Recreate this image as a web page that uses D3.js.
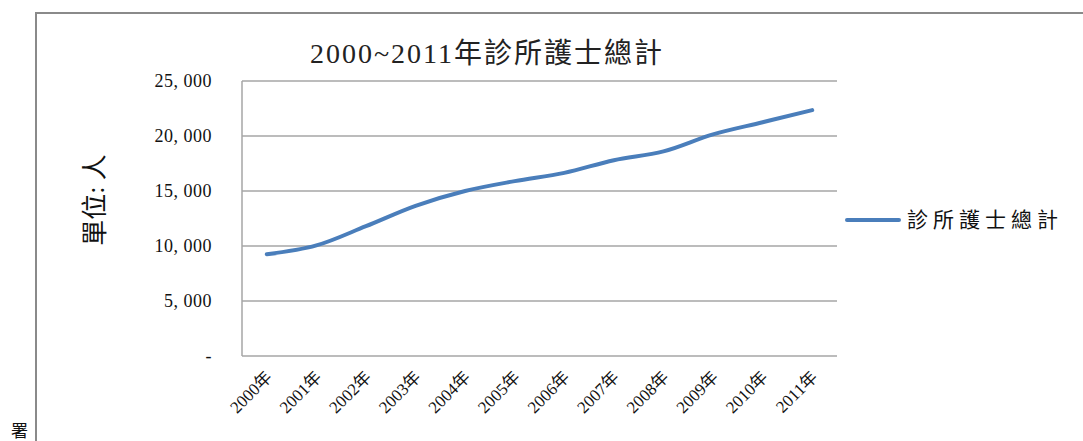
<!DOCTYPE html>
<html lang="zh-Hant">
<head>
<meta charset="utf-8">
<title>2000~2011年診所護士總計</title>
<script src="https://d3js.org/d3.v7.min.js"></script>
<style>
  body{margin:0;background:#fff;}
  svg text{font-family:"Liberation Serif","Noto Sans CJK TC",serif;fill:#111;}
</style>
</head>
<body>
<div id="chart"></div>
<script>
// data
var years = ["2000年","2001年","2002年","2003年","2004年","2005年","2006年","2007年","2008年","2009年","2010年","2011年"]
var nurses = [9250, 10050, 11800, 13650, 15000, 15900, 16650, 17800, 18600, 20150, 21250, 22350]
var yTicks = [0, 5000, 10000, 15000, 20000, 25000]
var seriesName = "診所護士總計"

var W = 1083, H = 441
var plot = {left:242, right:837, top:81, bottom:356}

var svg = d3.select("#chart").append("svg")
    .attr("width", W).attr("height", H)

// outer frame (only top and left visible in the picture)
svg.append("path")
    .attr("d", "M36,441V13H1083")
    .attr("fill","none").attr("stroke","#8a8a8a").attr("stroke-width",2)

var x = d3.scaleBand().domain(years).range([plot.left, plot.right])
var y = d3.scaleLinear().domain([0, 25000]).range([plot.bottom, plot.top])

// gridlines
svg.append("g").selectAll("line")
    .data(yTicks)
    .enter().append("line")
    .attr("x1", plot.left).attr("x2", plot.right)
    .attr("y1", function(d){ return y(d) }).attr("y2", function(d){ return y(d) })
    .attr("stroke", "#a6a6a6").attr("stroke-width", 1.5)

// y axis line
svg.append("line")
    .attr("x1", plot.left).attr("x2", plot.left)
    .attr("y1", plot.top).attr("y2", plot.bottom)
    .attr("stroke", "#a6a6a6").attr("stroke-width", 1.5)

// y tick labels
svg.append("g").selectAll("text")
    .data(yTicks)
    .enter().append("text")
    .attr("x", 212)
    .attr("y", function(d){ return y(d) })
    .attr("dy", "0.35em")
    .attr("text-anchor", "end")
    .style("font-size", "18px")
    .style("letter-spacing", "0.5px")
    .text(function(d){ return d === 0 ? "-" : d3.format(",")(d).replace(",", ", ") })

// x tick labels, rotated
svg.append("g").selectAll("text")
    .data(years)
    .enter().append("text")
    .attr("transform", function(d){
        return "translate(" + (x(d) + x.bandwidth()/2 + 2) + ",374) rotate(-45)"
    })
    .attr("text-anchor", "end")
    .attr("dy", "0.35em")
    .style("font-size", "17px")
    .text(function(d){ return d })

// the line
var line = d3.line()
    .x(function(d, i){ return x(years[i]) + x.bandwidth()/2 })
    .y(function(d){ return y(d) })
    .curve(d3.curveMonotoneX)

svg.append("path")
    .datum(nurses)
    .attr("d", line)
    .attr("fill", "none")
    .attr("stroke", "#4a7ebb")
    .attr("stroke-width", 4)
    .attr("stroke-linecap", "round")

// title
svg.append("text")
    .attr("x", 487).attr("y", 63)
    .attr("text-anchor", "middle")
    .style("font-size", "28px")
    .style("letter-spacing", "2px")
    .style("fill", "#222")
    .text("2000~2011年診所護士總計")

// y axis title
svg.append("text")
    .attr("transform", "translate(104,200) rotate(-90)")
    .attr("text-anchor", "middle")
    .style("font-size", "26px")
    .text("單位: 人")

// legend
svg.append("line")
    .attr("x1", 847).attr("x2", 899)
    .attr("y1", 220).attr("y2", 220)
    .attr("stroke", "#4a7ebb").attr("stroke-width", 4)
    .attr("stroke-linecap", "round")
svg.append("text")
    .attr("x", 907).attr("y", 220)
    .attr("dy", "0.35em")
    .style("font-size", "21px")
    .style("letter-spacing", "5px")
    .text(seriesName)

// stray character at the bottom-left of the page
svg.append("text")
    .attr("x", 11).attr("y", 437)
    .style("font-size", "17px")
    .text("署")
</script>
</body>
</html>
